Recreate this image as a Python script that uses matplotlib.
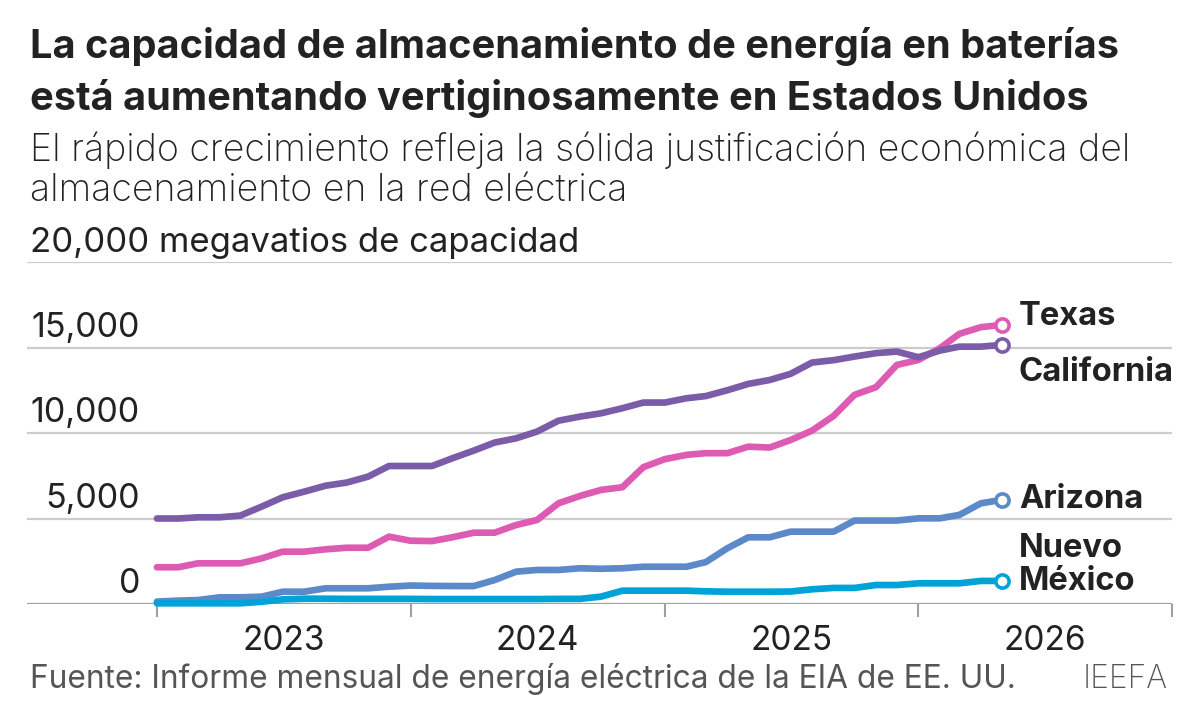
import matplotlib
matplotlib.use("Agg")
import matplotlib.pyplot as plt
import pandas as pd

# ---- data ----
months = pd.date_range("2023-01-01", periods=41, freq="MS")
california = [5000, 5000, 5070, 5070, 5170, 5700, 6240, 6570, 6920, 7100,
              7450, 8070, 8070, 8070, 8520, 8970, 9440, 9690, 10080, 10720,
              10960, 11150, 11450, 11780, 11780, 12030, 12160, 12500, 12870, 13100,
              13460, 14120, 14260, 14470, 14670, 14760, 14430, 14820, 15050, 15050,
              15150]
texas = [2150, 2150, 2380, 2380, 2380, 2670, 3060, 3060, 3200, 3290,
         3290, 3940, 3700, 3680, 3900, 4170, 4170, 4620, 4910, 5890,
         6320, 6670, 6830, 8000, 8470, 8720, 8820, 8820, 9200, 9150,
         9590, 10140, 11000, 12230, 12680, 13980, 14270, 14960, 15800, 16190,
         16320]
arizona = [140, 200, 230, 390, 390, 430, 720, 720, 920, 920,
           920, 1010, 1080, 1060, 1050, 1050, 1400, 1890, 1990, 1990,
           2090, 2060, 2090, 2180, 2180, 2180, 2450, 3260, 3900, 3900,
           4230, 4230, 4230, 4880, 4880, 4880, 5010, 5010, 5210, 5890,
           6090]
nuevo_mexico = [40, 40, 40, 40, 40, 130, 270, 310, 310, 300,
                300, 300, 300, 290, 290, 290, 290, 290, 290, 300,
                300, 430, 780, 780, 780, 780, 740, 720, 720, 720,
                730, 860, 940, 940, 1110, 1110, 1210, 1210, 1210, 1350,
                1350]
year_labels = ["2023", "2024", "2025", "2026"]
y_ticks = [0, 5000, 10000, 15000]
series = [
    ("Texas", texas, "#de5bb4", 8),
    ("California", california, "#7a5ca8", -28),
    ("Arizona", arizona, "#5b89c9", 0),
    ("Nuevo\nMéxico", nuevo_mexico, "#00a3d8", -1),
]

plt.rcParams["font.family"] = ["Inter", "DejaVu Sans"]
TXT = "#222222"
GREY = "#555555"

W, H = 1200, 722
fig = plt.figure(figsize=(W / 100, H / 100), dpi=100)

def fx(px):
    return px / W

def fy(py):
    return 1 - py / H

ax_l, ax_r, ax_t, ax_b = 27, 1172, 262, 604
ax = fig.add_axes([fx(ax_l), fy(ax_b), fx(ax_r - ax_l), (ax_b - ax_t) / H])
ax.set_ylim(0, 20000)
ax.set_xlim(pd.Timestamp("2022-06-28"), pd.Timestamp("2027-01-01"))

for s in ax.spines.values():
    s.set_visible(False)

for v in [5000, 10000, 15000, 20000]:
    ax.axhline(v, color="#cccccc", lw=1.6, zorder=1)
ax.axhline(0, color="#a0a0a0", lw=1.6, zorder=1)

# year boundary ticks
ax.set_xticks([pd.Timestamp(f"{y}-01-01") for y in range(2023, 2028)])
ax.xaxis.set_major_formatter(plt.NullFormatter())
ax.tick_params(axis="x", length=9, width=1.5, color="#a0a0a0", direction="out")
ax.set_yticks([])

# year labels centered within each year
for lab in year_labels:
    ax.annotate(lab, xy=(pd.Timestamp(f"{lab}-07-02"), 0), xycoords="data",
                xytext=(0, -37), textcoords="offset pixels",
                ha="center", va="center", fontsize=24, color=TXT)

# y tick labels above gridlines
for v in y_ticks:
    ax.annotate(f"{v:,}", xy=((140 - ax_l) / (ax_r - ax_l), v),
                xycoords=("axes fraction", "data"),
                xytext=(0, 20), textcoords="offset pixels",
                ha="right", va="center", fontsize=24.5, color=TXT)

for name, vals, col, dy in series:
    ax.plot(months, vals, color=col, lw=4.8, solid_capstyle="round",
            solid_joinstyle="round", clip_on=False, zorder=3)
    ax.plot([months[-1]], [vals[-1]], marker="o", ms=9.5, mfc="white",
            mec=col, mew=2.6, clip_on=False, zorder=4)
    if "\n" in name:
        top, bot = name.split("\n")
        ax.annotate(bot, xy=(months[-1], vals[-1]), xytext=(17, dy),
                    textcoords="offset pixels", ha="left", va="center",
                    fontsize=23.5, fontweight="bold", color=TXT)
        ax.annotate(top, xy=(months[-1], vals[-1]), xytext=(17, dy + 33),
                    textcoords="offset pixels", ha="left", va="center",
                    fontsize=23.5, fontweight="bold", color=TXT)
    else:
        ax.annotate(name, xy=(months[-1], vals[-1]), xytext=(17, dy),
                    textcoords="offset pixels", ha="left", va="center",
                    fontsize=23.5, fontweight="bold", color=TXT)

# titles
fig.text(fx(30), fy(47), "La capacidad de almacenamiento de energía en baterías",
         fontsize=28.6, fontweight="bold", color=TXT, va="center", ha="left")
fig.text(fx(30), fy(99), "está aumentando vertiginosamente en Estados Unidos",
         fontsize=28.6, fontweight="bold", color=TXT, va="center", ha="left")
fig.text(fx(30), fy(150), "El rápido crecimiento refleja la sólida justificación económica del",
         fontsize=27, fontweight="light", color=TXT, va="center", ha="left")
fig.text(fx(30), fy(191), "almacenamiento en la red eléctrica",
         fontsize=27, fontweight="light", color=TXT, va="center", ha="left")
fig.text(fx(30), fy(243), "20,000 megavatios de capacidad",
         fontsize=25, color=TXT, va="center", ha="left")

fig.text(fx(30), fy(679), "Fuente: Informe mensual de energía eléctrica de la EIA de EE. UU.",
         fontsize=22.8, color=GREY, va="center", ha="left")
fig.text(fx(1168), fy(679), "IEEFA", fontsize=22.8, color=GREY, va="center", ha="right",
         fontweight="light")

fig.savefig("out.png", dpi=100, facecolor="white")
